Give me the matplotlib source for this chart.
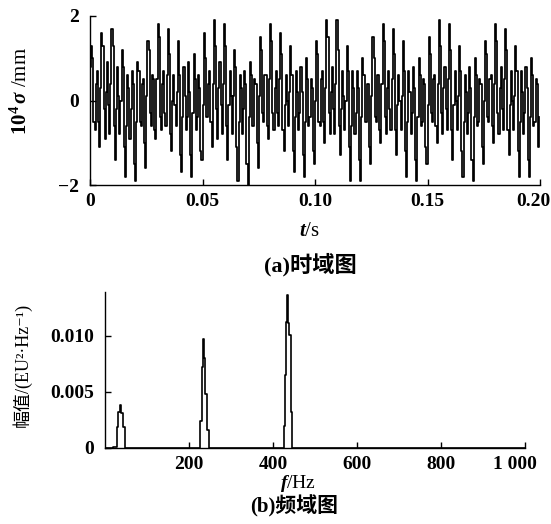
import matplotlib
matplotlib.use("Agg")
import matplotlib.pyplot as plt
import matplotlib.transforms as mtransforms
import numpy as np

# sampled displacement (x 10^-4 mm), fs = 2000 Hz, 0.2 s
fs = 2000
displacement = [
    0.8, 1.3, 1.0, -0.5, -0.7, 0.4, 0.7, -0.5, -1.1, 0.3, 1.6, 1.3, -0.2, -0.9, 0.2, 0.9, -0.1, -0.8, 0.4, 1.7,
    1.3, -0.6, -1.4, -0.2, 0.8, 0.1, -0.8, 0.0, 1.2, 0.8, -1.1, -1.8, -0.6, 0.6, 0.3, -0.9, -0.2, 0.7, 0.4, -1.5,
    -1.9, -0.5, 0.9, 0.7, -0.5, -0.6, 0.4, 0.5, -1.0, -1.6,
    0.1, 1.4, 1.2, -0.3, -0.6, 0.6, 0.5, -0.7, -0.9, 0.5, 1.8, 1.5, -0.4, -0.7, 0.4, 0.7, -0.3, -0.6, 0.6, 1.7,
    1.1, -0.8, -1.2, 0.0, 0.6, -0.1, -0.6, 0.2, 1.4, 0.6, -1.3, -1.7, -0.4, 0.8, 0.1, -0.7, -0.4, 0.9, 0.2, -1.3,
    -1.8, -0.3, 1.1, 0.5, -0.7, -0.4, 0.6, 0.3, -1.2, -1.4,
    -0.1, 1.6, 1.0, -0.4, -0.4, 0.4, 0.7, -0.5, -1.1, 0.4, 1.9, 1.3, -0.2, -0.9, 0.3, 0.9, -0.1, -0.8, 0.4, 1.8,
    1.3, -0.6, -1.4, -0.1, 0.7, 0.1, -0.8, 0.1, 1.2, 0.8, -1.1, -1.9, -0.5, 0.6, 0.3, -0.8, -0.2, 0.7, 0.4, -1.5,
    -2.0, -0.4, 0.9, 0.6, -0.6, -0.6, 0.5, 0.4, -1.0, -1.6,
    0.1, 1.5, 1.2, -0.3, -0.5, 0.6, 0.6, -0.6, -0.9, 0.5, 1.8, 1.4, -0.3, -0.7, 0.3, 0.7, -0.3, -0.6, 0.5, 1.6,
    1.1, -0.7, -1.2, -0.1, 0.6, 0.0, -0.6, 0.2, 1.3, 0.6, -1.2, -1.7, -0.4, 0.7, 0.2, -0.7, -0.3, 0.8, 0.2, -1.3,
    -1.8, -0.5, 1.0, 0.5, -0.6, -0.4, 0.5, 0.3, -1.2, -1.5,
    0.0, 1.4, 1.1, -0.5, -0.6, 0.5, 0.7, -0.5, -1.0, 0.3, 1.9, 1.5, -0.3, -0.8, 0.2, 0.8, -0.2, -0.8, 0.4, 1.9,
    1.2, -0.6, -1.3, -0.2, 0.7, 0.1, -0.7, 0.0, 1.3, 0.7, -1.1, -1.9, -0.6, 0.7, 0.3, -0.8, -0.3, 0.7, 0.3, -1.4,
    -1.9, -0.4, 1.0, 0.6, -0.5, -0.5, 0.4, 0.4, -1.1, -1.5,
    0.1, 1.5, 1.0, -0.4, -0.5, 0.6, 0.6, -0.7, -1.0, 0.4, 1.8, 1.4, -0.4, -0.8, 0.3, 0.7, -0.2, -0.7, 0.5, 1.7,
    1.1, -0.7, -1.3, -0.1, 0.6, 0.0, -0.7, 0.1, 1.4, 0.7, -1.2, -1.8, -0.5, 0.7, 0.2, -0.8, -0.3, 0.8, 0.3, -1.4,
    -1.9, -0.4, 1.0, 0.6, -0.6, -0.5, 0.5, 0.4, -1.1, -1.5,
    -0.1, 1.5, 1.1, -0.3, -0.5, 0.5, 0.6, -0.6, -1.0, 0.4, 1.9, 1.3, -0.3, -0.8, 0.3, 0.8, -0.2, -0.7, 0.5, 1.8,
    1.2, -0.7, -1.4, -0.1, 0.7, 0.0, -0.7, 0.1, 1.3, 0.7, -1.2, -1.8, -0.5, 0.6, 0.2, -0.8, -0.3, 0.8, 0.3, -1.4,
    -1.9, -0.4, 1.0, 0.6, -0.6, -0.5, 0.5, 0.4, -1.1, -1.5,
    0.0, 1.4, 1.1, -0.4, -0.5, 0.5, 0.6, -0.6, -1.0, 0.4, 1.8, 1.4, -0.3, -0.8, 0.3, 0.8, -0.2, -0.7, 0.5, 1.7,
    1.2, -0.7, -1.3, -0.1, 0.7, 0.0, -0.7, 0.1, 1.3, 0.7, -1.2, -1.8, -0.5, 0.7, 0.2, -0.8, -0.3, 0.8, 0.3, -1.4,
    -1.8, -0.4, 1.0, 0.6, -0.6, -0.5, 0.5, 0.4, -1.1, -0.4,
]

# spectrum (steps start at these frequencies)
spec_freq = [0, 20, 28, 31, 35, 39, 43, 47, 52,
             226, 230, 234.5, 236, 238.5, 243.5, 248,
             425, 428.6, 432, 434.3, 435.5, 437.5, 440, 444, 446, 1000]
spec_amp = [0, 0.0001, 0.0019, 0.0032, 0.0038, 0.0031, 0.0019, 0.0, 0,
            0.0024, 0.0072, 0.0097, 0.0080, 0.0048, 0.0016, 0,
            0.0020, 0.0065, 0.0112, 0.0136, 0.0111, 0.0101, 0.0101, 0.0032, 0, 0]

t_ticks = [0, 0.05, 0.10, 0.15, 0.20]
t_labels = ["0", "0.05", "0.10", "0.15", "0.20"]
f_ticks = [200, 400, 600, 800, 1000]
f_labels = ["200", "400", "600", "800", "1 000"]
amp_ticks = [0, 0.005, 0.010]
amp_labels = ["0", "0.005", "0.010"]

plt.rcParams["font.family"] = ["Liberation Serif", "DejaVu Serif", "Noto Sans CJK SC"]
plt.rcParams["font.weight"] = "bold"
plt.rcParams["mathtext.fontset"] = "custom"
plt.rcParams["mathtext.rm"] = "Liberation Serif:bold"
plt.rcParams["mathtext.it"] = "Liberation Serif:italic:bold"
plt.rcParams["mathtext.bf"] = "Liberation Serif:bold"

W, H = 551, 524
fig = plt.figure(figsize=(W / 100, H / 100), dpi=100)
ax1 = fig.add_axes([90 / W, 1 - 185 / H, 450 / W, 169 / H])
ax2 = fig.add_axes([105 / W, 1 - 448 / H, 420 / W, 156 / H])

t = np.arange(len(displacement)) / fs
ax1.plot(t, displacement, drawstyle="steps-post", color="black", lw=1.25)
ax1.set_xlim(0, 0.2)
ax1.set_ylim(-2, 2)
ax1.set_yticks([-2, 0, 2])
ax1.set_yticklabels(["\u22122", "0", "2"])
ax1.set_xticks(t_ticks)
ax1.set_xticklabels(t_labels)
ax1.set_ylabel(r"$\mathrm{10^4}\,\sigma$ /mm", fontsize=15, va="center")
ax1.yaxis.set_label_coords((21 - 90) / 450, (185 - 91) / 169)
ax1.set_xlabel(r"$t$/s", fontsize=15, va="center")
ax1.xaxis.set_label_coords((309 - 90) / 450, (185 - 231) / 169)
fig.text(310 / W, 1 - 265 / H, "(a)时域图", ha="center", va="center", fontsize=16)

ax2.plot(spec_freq, spec_amp, drawstyle="steps-post", color="black", lw=1.2)
ax2.set_xlim(0, 1000)
ax2.set_ylim(0, 0.0139)
ax2.set_xticks(f_ticks)
ax2.set_xticklabels(f_labels)
ax2.set_yticks(amp_ticks)
ax2.set_yticklabels(amp_labels)
ax2.set_xlabel(r"$f$/Hz", fontsize=14, va="center")
ax2.xaxis.set_label_coords((298 - 105) / 420, (448 - 484) / 156)
ax2.set_ylabel("幅值/(EU²·Hz⁻¹)", fontsize=13, va="center")
ax2.yaxis.set_label_coords((22 - 105) / 420, (448 - 365) / 156)
fig.text(294 / W, 1 - 506 / H, "(b)频域图", ha="center", va="center", fontsize=15)

for ax in (ax1, ax2):
    ax.spines["top"].set_visible(False)
    ax.spines["right"].set_visible(False)
    ax.tick_params(direction="in", length=4, width=1, labelsize=14)
    ax.tick_params(axis="y", pad=8)
    ax.tick_params(axis="x", pad=6)
    for s in ("left", "bottom"):
        ax.spines[s].set_linewidth(1.0)

# last x labels sit a little left of their ticks
for ax, dx in ((ax1, -7), (ax2, -10)):
    lab = ax.get_xticklabels()[-1]
    lab.set_transform(lab.get_transform() + mtransforms.ScaledTranslation(dx / 100, 0, fig.dpi_scale_trans))

fig.savefig("out.png", dpi=100)
